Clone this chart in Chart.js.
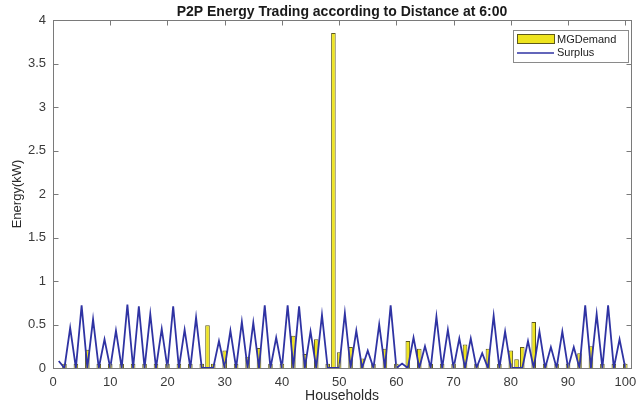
<!DOCTYPE html>
<html lang="en">
<head>
<meta charset="UTF-8">
<title>P2P Energy Trading according to Distance at 6:00</title>
<script src="https://cdn.jsdelivr.net/npm/chart.js"></script>
<style>
    html, body { margin: 0; padding: 0; background: #fff; }
    #wrap { width: 644px; height: 410px; }
</style>
</head>
<body>
<div id="wrap"><canvas id="p2pChart" width="644" height="410"></canvas></div>
<script>
// household index (x)
const households = [
    1, 2, 3, 4, 5, 6, 7, 8, 9, 10,
    11, 12, 13, 14, 15, 16, 17, 18, 19, 20,
    21, 22, 23, 24, 25, 26, 27, 28, 29, 30,
    31, 32, 33, 34, 35, 36, 37, 38, 39, 40,
    41, 42, 43, 44, 45, 46, 47, 48, 49, 50,
    51, 52, 53, 54, 55, 56, 57, 58, 59, 60,
    61, 62, 63, 64, 65, 66, 67, 68, 69, 70,
    71, 72, 73, 74, 75, 76, 77, 78, 79, 80,
    81, 82, 83, 84, 85, 86, 87, 88, 89, 90,
    91, 92, 93, 94, 95, 96, 97, 98, 99, 100
];

// MGDemand bars (kW)
const mgDemand = [
    0, 0.05, 0, 0.05, 0, 0.21, 0, 0.05, 0, 0.05,
    0, 0.05, 0, 0.05, 0, 0.05, 0, 0.05, 0, 0.05,
    0, 0.05, 0, 0.05, 0, 0.05, 0.49, 0.05, 0, 0.20,
    0, 0.05, 0, 0.13, 0, 0.23, 0, 0.05, 0, 0.05,
    0, 0.37, 0, 0.16, 0, 0.33, 0, 0.05, 3.85, 0.18,
    0, 0.24, 0, 0.11, 0, 0.05, 0, 0.22, 0, 0.05,
    0, 0.31, 0, 0.22, 0, 0.05, 0, 0.05, 0, 0.05,
    0, 0.27, 0, 0.05, 0, 0.22, 0, 0.05, 0, 0.20,
    0.10, 0.24, 0, 0.53, 0, 0.05, 0, 0.05, 0, 0.05,
    0, 0.17, 0, 0.25, 0, 0.05, 0, 0.05, 0, 0.05
];

// Surplus line (kW)
const surplus = [
    0.08, 0, 0.46, 0, 0.72, 0, 0.56, 0, 0.33, 0,
    0.43, 0, 0.73, 0, 0.71, 0, 0.62, 0, 0.45, 0,
    0.71, 0, 0.44, 0, 0.58, 0, 0, 0, 0.31, 0,
    0.43, 0, 0.53, 0, 0.52, 0, 0.72, 0, 0.35, 0,
    0.72, 0, 0.71, 0, 0.42, 0, 0.61, 0, 0, 0,
    0.63, 0, 0.43, 0, 0.20, 0, 0.50, 0, 0.72, 0,
    0.05, 0, 0.35, 0, 0.25, 0, 0.59, 0, 0.44, 0,
    0.34, 0, 0.34, 0, 0.17, 0, 0.60, 0, 0.42, 0,
    0, 0, 0.31, 0, 0.42, 0, 0.24, 0, 0.42, 0,
    0.24, 0, 0.72, 0, 0.62, 0, 0.72, 0, 0.33, 0
];

const xTicks = [0, 10, 20, 30, 40, 50, 60, 70, 80, 90, 100];
const yTicks = [0, 0.5, 1, 1.5, 2, 2.5, 3, 3.5, 4];

const FONT = "'Liberation Sans', Arial, Helvetica, sans-serif";
const AXIS_COLOR = '#7a7a7a';
const BAR_FILL = '#eee41e';
const BAR_EDGE = '#5e5a1a';
const LINE_COLOR = '#2f33a3';

// MATLAB-like box with inward ticks on all four sides
const axesBox = {
    id: 'axesBox',
    afterDatasetsDraw(chart) {
        const { ctx, chartArea: a, scales: { x, y } } = chart;
        const L = Math.round(a.left) + 0.5, R = Math.round(a.right) + 0.5;
        const T = Math.round(a.top) + 0.5, B = Math.round(a.bottom) + 0.5;
        ctx.save();
        ctx.strokeStyle = AXIS_COLOR;
        ctx.lineWidth = 1;
        ctx.beginPath();
        xTicks.forEach(v => {
            const px = Math.round(x.getPixelForValue(v)) + 0.5;
            ctx.moveTo(px, B); ctx.lineTo(px, B - 5);
            ctx.moveTo(px, T); ctx.lineTo(px, T + 5);
        });
        yTicks.forEach(v => {
            const py = Math.round(y.getPixelForValue(v)) + 0.5;
            ctx.moveTo(L, py); ctx.lineTo(L + 5, py);
            ctx.moveTo(R, py); ctx.lineTo(R - 5, py);
        });
        ctx.stroke();
        ctx.strokeRect(L, T, R - L, B - T);
        ctx.restore();
    }
};

// legend box in the upper right corner
const boxLegend = {
    id: 'boxLegend',
    afterDraw(chart) {
        const { ctx } = chart;
        const ds = chart.data.datasets;
        const bx = 513, by = 30, bw = 115, bh = 32;
        ctx.save();
        ctx.fillStyle = '#fff';
        ctx.fillRect(bx, by, bw, bh);
        ctx.strokeStyle = '#8a8a8a';
        ctx.lineWidth = 1;
        ctx.strokeRect(bx + 0.5, by + 0.5, bw, bh);

        // bar swatch
        ctx.fillStyle = ds[0].backgroundColor;
        ctx.fillRect(517, 34, 37, 9);
        ctx.strokeStyle = ds[0].borderColor;
        ctx.strokeRect(517.5, 34.5, 37, 9);
        // line swatch
        ctx.strokeStyle = ds[1].borderColor;
        ctx.lineWidth = 1.5;
        ctx.beginPath();
        ctx.moveTo(517, 53); ctx.lineTo(554, 53);
        ctx.stroke();

        ctx.fillStyle = '#222';
        ctx.font = '11px ' + FONT;
        ctx.textBaseline = 'middle';
        ctx.textAlign = 'left';
        ctx.fillText(ds[0].label, 557, 39.5);
        ctx.fillText(ds[1].label, 557, 53);
        ctx.restore();
    }
};

new Chart(document.getElementById('p2pChart'), {
    type: 'bar',
    data: {
        datasets: [
            {
                type: 'bar',
                label: 'MGDemand',
                data: households.map((h, i) => ({ x: h, y: mgDemand[i] })),
                backgroundColor: BAR_FILL,
                borderColor: BAR_EDGE,
                borderWidth: 1,
                barPercentage: 1,
                categoryPercentage: 0.8,
                order: 2
            },
            {
                type: 'line',
                label: 'Surplus',
                data: households.map((h, i) => ({ x: h, y: surplus[i] })),
                borderColor: LINE_COLOR,
                backgroundColor: LINE_COLOR,
                borderWidth: 1.8,
                pointRadius: 0,
                tension: 0,
                fill: false,
                order: 1
            }
        ]
    },
    options: {
        responsive: false,
        animation: false,
        devicePixelRatio: 1,
        layout: { padding: { top: 0, right: 13, bottom: 0, left: 0 } },
        plugins: {
            legend: { display: false },
            tooltip: { enabled: false },
            title: {
                display: true,
                fullSize: false,
                text: 'P2P Energy Trading according to Distance at 6:00',
                color: '#1a1a1a',
                font: { family: FONT, size: 14, weight: 'bold', lineHeight: 1 },
                padding: { top: 5, bottom: 1 }
            }
        },
        scales: {
            x: {
                type: 'linear',
                min: 0,
                max: 101,
                offset: false,
                grid: { display: false, drawTicks: false },
                border: { display: false },
                afterBuildTicks: s => { s.ticks = xTicks.map(v => ({ value: v })); },
                afterFit: s => { s.height = 42; },
                ticks: {
                    padding: 7,
                    color: '#3a3a3a',
                    font: { family: FONT, size: 13 },
                    callback: v => String(v)
                },
                title: {
                    display: true,
                    text: 'Households',
                    color: '#2a2a2a',
                    font: { family: FONT, size: 14 },
                    padding: { top: 0, bottom: 5 }
                }
            },
            y: {
                min: 0,
                max: 4,
                grid: { display: false, drawTicks: false },
                border: { display: false },
                afterBuildTicks: s => { s.ticks = yTicks.map(v => ({ value: v })); },
                afterFit: s => { s.width = 53; },
                ticks: {
                    padding: 7,
                    color: '#3a3a3a',
                    font: { family: FONT, size: 13 },
                    callback: v => String(v)
                },
                title: {
                    display: true,
                    text: 'Energy(kW)',
                    color: '#2a2a2a',
                    font: { family: FONT, size: 13 },
                    padding: { top: 10, bottom: 0 }
                }
            }
        }
    },
    plugins: [axesBox, boxLegend]
});
</script>
</body>
</html>
